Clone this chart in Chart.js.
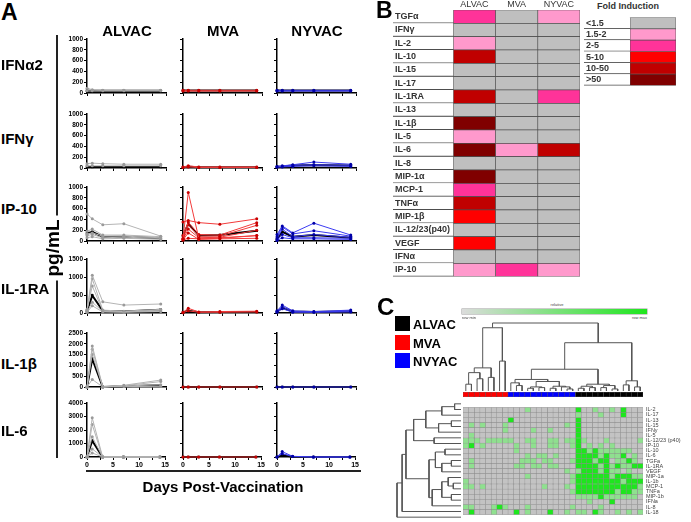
<!DOCTYPE html>
<html>
<head>
<meta charset="utf-8">
<script src="https://cdn.jsdelivr.net/npm/chart.js@4.4.1/dist/chart.umd.min.js"></script>
<style>
  body { margin: 0; background: #fff; font-family: "Liberation Sans", Arial, sans-serif; }
  #page { position: relative; width: 691px; height: 522px; overflow: hidden; background: #fff; }
  canvas, .txt, .rule { position: absolute; }
  .txt { font-weight: bold; color: #000; white-space: nowrap; line-height: 1; }
  .rule { background: #222; }
</style>
</head>
<body>
<div id="page"></div>
<script>
// ---------- panel A data (pg/mL by day) ----------
const days = [0, 1, 3, 7, 14];
const vaccines = ["ALVAC", "MVA", "NYVAC"];
const cytokinesA = ["IFNα2", "IFNγ", "IP-10", "IL-1RA", "IL-1β", "IL-6"];
const yMaxA = [1000, 1000, 1000, 1500, 2500, 4000];
const yStepA = [200, 200, 200, 500, 500, 1000];

const ifna2Alvac = [[90, 60, 50, 50, 50], [40, 40, 40, 40, 40]];
const ifna2AlvacMean = [40, 40, 40, 40, 40];
const ifna2Mva = [[50, 50, 50, 50, 50], [35, 35, 35, 35, 35]];
const ifna2MvaMean = [45, 45, 45, 45, 45];
const ifna2Nyvac = [[50, 50, 50, 50, 50], [35, 35, 35, 35, 35]];
const ifna2NyvacMean = [45, 45, 45, 45, 45];

const ifngAlvac = [[80, 90, 80, 70, 70], [40, 40, 40, 40, 40]];
const ifngAlvacMean = [20, 20, 20, 20, 20];
const ifngMva = [[20, 40, 20, 20, 20], [10, 20, 10, 10, 10]];
const ifngMvaMean = [15, 25, 15, 15, 15];
const ifngNyvac = [[30, 40, 60, 110, 70], [20, 30, 50, 60, 50], [20, 20, 30, 40, 30]];
const ifngNyvacMean = [25, 30, 45, 55, 45];

const ip10Alvac = [[500, 410, 300, 320, 90], [180, 220, 110, 110, 80], [130, 150, 90, 90, 60], [100, 120, 60, 70, 50], [60, 80, 40, 50, 30]];
const ip10AlvacMean = [140, 170, 75, 80, 50];
const ip10Mva = [[40, 900, 50, 60, 100], [350, 380, 340, 310, 410], [100, 350, 120, 110, 340], [50, 300, 90, 90, 290], [30, 220, 60, 70, 200], [20, 50, 40, 50, 100], [20, 150, 30, 40, 50]];
const ip10MvaMean = [100, 320, 100, 110, 190];
const ip10Nyvac = [[120, 280, 150, 330, 110], [80, 260, 130, 190, 90], [40, 220, 80, 120, 70], [20, 120, 60, 60, 50], [10, 60, 40, 40, 30]];
const ip10NyvacMean = [40, 170, 80, 110, 60];

const il1raAlvac = [[100, 1050, 310, 220, 250], [50, 950, 80, 50, 100], [80, 750, 60, 40, 80], [30, 300, 40, 30, 60], [20, 200, 30, 20, 40]];
const il1raAlvacMean = [50, 490, 60, 40, 90];
const il1raMva = [[20, 130, 30, 40, 50], [10, 60, 20, 20, 30]];
const il1raMvaMean = [15, 60, 20, 25, 30];
const il1raNyvac = [[60, 220, 60, 40, 80], [40, 170, 40, 30, 50], [20, 120, 20, 20, 30]];
const il1raNyvacMean = [30, 150, 40, 30, 50];

const il1bAlvac = [[0, 1900, 0, 80, 320], [0, 1750, 0, 60, 250], [0, 1500, 0, 50, 100], [0, 350, 0, 20, 30]];
const il1bAlvacMean = [0, 1300, 0, 40, 80];
const il1bMva = [[0, 0, 0, 0, 0]];
const il1bMvaMean = [0, 0, 0, 0, 0];
const il1bNyvac = [[0, 0, 0, 0, 0]];
const il1bNyvacMean = [0, 0, 0, 0, 0];

const il6Alvac = [[0, 2900, 0, 0, 0], [0, 2400, 0, 0, 0], [0, 1500, 0, 0, 0], [0, 600, 0, 0, 0], [0, 300, 0, 0, 0]];
const il6AlvacMean = [0, 1200, 0, 0, 0];
const il6Mva = [[0, 0, 0, 0, 0]];
const il6MvaMean = [0, 0, 0, 0, 0];
const il6Nyvac = [[0, 400, 50, 0, 0], [0, 250, 30, 0, 0]];
const il6NyvacMean = [0, 150, 20, 0, 0];

// ---------- panel B data (fold induction class 0..5) ----------
const foldRows = ["TGFα", "IFNγ", "IL-2", "IL-10", "IL-15", "IL-17", "IL-1RA", "IL-13", "IL-1β", "IL-5",
  "IL-6", "IL-8", "MIP-1α", "MCP-1", "TNFα", "MIP-1β", "IL-12/23(p40)", "VEGF", "IFNα", "IP-10"];
const alvacFold = [2, 0, 1, 4, 0, 0, 4, 0, 5, 1, 5, 0, 5, 2, 4, 3, 0, 3, 0, 1];
const mvaFold = [0, 0, 0, 0, 0, 0, 0, 0, 0, 0, 1, 0, 0, 0, 0, 0, 0, 0, 0, 2];
const nyvacFold = [1, 0, 0, 0, 0, 0, 2, 0, 0, 0, 4, 0, 0, 0, 0, 0, 0, 0, 0, 1];
const foldLabels = ["<1.5", "1.5-2", "2-5", "5-10", "10-50", ">50"];
const foldColors = ["#bfbfbf", "#ff99cc", "#ff3399", "#ff0000", "#c00000", "#800000"];

// ---------- panel C data ----------
const heatRowNames = ["IL-2", "IL-17", "IL-13", "IL-15", "IFNy", "IL-5", "IL-12/23 (p40)", "IP-10", "IL-10", "IL-6",
  "TGFa", "IL-1RA", "VEGF", "MIP-1a", "IL-1b", "MCP-1", "TNFa", "MIP-1b", "IFNa", "IL-8", "IL-18"];
const groupNames = ["MVA", "NVYAC", "ALVAC"];
const groupSizes = [8, 12, 12];
const groupColors = { MVA: "#ff0000", NVYAC: "#0000ff", ALVAC: "#000000" };
// 0 = grey, 1 = light green, 2 = bright green ; columns MVA | NYVAC | ALVAC
const heatRows = [
  "00000000 000100000000 200100102000",
  "00000000 000000000000 100010002000",
  "00000000 200000000000 200000000000",
  "01010001 000000000010 200000000000",
  "00000001 000010010000 200000000000",
  "01000000 000000000000 200000000000",
  "11101111 100110011011 210001000001",
  "12010000 010010011001 201010100000",
  "00000000 010000000000 221211111100",
  "00000000 000101101000 222212112010",
  "01000000 001110110001 222122011210",
  "01000000 011011011000 222212121122",
  "00000000 000000000010 122212110100",
  "00000000 000100000001 222222122211",
  "10000000 000000000001 222222221222",
  "11010000 000000100010 222222222221",
  "00000000 000000000001 222222212211",
  "00000000 000000000000 111121111110",
  "00000000 000000000000 001000200000",
  "11000121 000100000001 000010000000",
  "02000100 020100020010 110210010101"
];
const heatColors = ["#c3c3c3", "#8fe08f", "#1ee61e"];
// dendrograms: [height, left, right], leaves are column / row indexes
const colTree = [1.0,
  [0.93, [0.34, [0.27, [0.1, 0, 1], [0.18, 2, 3]], [0.2, 4, 5]], [0.44, 6, 7]],
  [0.71,
    [0.32,
      [0.17, [0.12, 8, [0.08, 9, 10]], [0.14, [0.06, [0.04, 11, 12], [0.05, 13, 14]], [0.07, [0.04, 15, 16], [0.06, 17, [0.03, 18, 19]]]]],
      [0.1, [0.07, [0.04, 20, 21], [0.05, 22, 23]], [0.08, [0.05, 24, 25], [0.03, 26, 27]]]],
    [0.15, [0.09, 28, 29], [0.06, 30, 31]]]];
const rowTree = [1.0,
  [0.92,
    [0.86,
      [0.74, [0.55, [0.3, [0.1, 0, 1], 2], [0.35, [0.15, 3, 4], 5]], [0.42, 6, 7]],
      [0.5, [0.4, [0.25, 8, 9], [0.3, [0.15, 10, 11], 12]], [0.45, [0.3, [0.2, 13, [0.12, 14, 15]], [0.15, 16, 17]], 18]]],
    19],
  20];

// ---------- helpers ----------
Chart.defaults.font.family = '"Liberation Sans", Arial, sans-serif';
Chart.defaults.color = "#000";
Chart.defaults.animation = false;
Chart.defaults.responsive = false;
Chart.defaults.maintainAspectRatio = false;
Chart.defaults.plugins.legend.display = false;
Chart.defaults.plugins.tooltip.enabled = false;

const page = document.getElementById("page");

function addCanvas(x, y, w, h) {
  const c = document.createElement("canvas");
  c.width = w; c.height = h;
  c.style.left = x + "px"; c.style.top = y + "px";
  c.style.width = w + "px"; c.style.height = h + "px";
  page.appendChild(c);
  return c;
}

function addText(str, x, y, size, align, extra) {
  const d = document.createElement("div");
  d.className = "txt";
  d.textContent = str;
  d.style.fontSize = size + "px";
  d.style.left = x + "px";
  d.style.top = y + "px";
  const tx = align === "center" ? "-50%" : align === "right" ? "-100%" : "0";
  d.style.transform = "translate(" + tx + ",-50%)" + (extra && extra.rotate ? " rotate(-90deg)" : "");
  if (extra) Object.assign(d.style, extra.style || {});
  page.appendChild(d);
  return d;
}

function addRule(x, y, w, h) {
  const d = document.createElement("div");
  d.className = "rule";
  Object.assign(d.style, { left: x + "px", top: y + "px", width: w + "px", height: h + "px" });
  page.appendChild(d);
}

// ---------- panel A ----------
const panelA = [
  [[ifna2Alvac, ifna2AlvacMean], [ifna2Mva, ifna2MvaMean], [ifna2Nyvac, ifna2NyvacMean]],
  [[ifngAlvac, ifngAlvacMean], [ifngMva, ifngMvaMean], [ifngNyvac, ifngNyvacMean]],
  [[ip10Alvac, ip10AlvacMean], [ip10Mva, ip10MvaMean], [ip10Nyvac, ip10NyvacMean]],
  [[il1raAlvac, il1raAlvacMean], [il1raMva, il1raMvaMean], [il1raNyvac, il1raNyvacMean]],
  [[il1bAlvac, il1bAlvacMean], [il1bMva, il1bMvaMean], [il1bNyvac, il1bNyvacMean]],
  [[il6Alvac, il6AlvacMean], [il6Mva, il6MvaMean], [il6Nyvac, il6NyvacMean]]
];
const vacStyle = [
  { line: "#b4b4b4", point: "#9a9a9a" },
  { line: "#f23b3b", point: "#c80000" },
  { line: "#3b3bf2", point: "#0000a8" }
];
const plotLeftA = [87, 183, 277];
const plotBottomA = [93, 168, 241, 313, 387, 457];

function smallChart(canvas, subjects, mean, sty, yMax, yStep, showY, showX) {
  const sets = subjects.map(s => ({
    data: s.map((v, i) => ({ x: days[i], y: v })),
    borderColor: sty.line, borderWidth: 1,
    pointRadius: 1.5, pointBorderWidth: 0,
    pointBackgroundColor: sty.point, clip: 4
  }));
  sets.push({
    data: mean.map((v, i) => ({ x: days[i], y: v })),
    borderColor: "#000", borderWidth: 2,
    pointStyle: "rect", pointRadius: 1.8, pointBorderWidth: 0,
    pointBackgroundColor: "#000", clip: 4
  });
  const axisGrid = { drawOnChartArea: false, tickLength: 3, color: "#000", lineWidth: 1 };
  return new Chart(canvas, {
    type: "line",
    data: { datasets: sets },
    options: {
      layout: { padding: { top: 5, right: 4 } },
      scales: {
        x: {
          type: "linear", min: 0, max: 15,
          ticks: {
            stepSize: 2.5, autoSkip: false, maxRotation: 0, padding: 1,
            font: { size: 7, weight: "bold" },
            callback: v => (showX && v % 5 === 0 ? v : "")
          },
          grid: axisGrid,
          border: { color: "#000", width: 1.5 },
          afterFit: a => { a.height = 12; }
        },
        y: {
          min: 0, max: yMax,
          ticks: {
            stepSize: yStep, padding: 1,
            font: { size: 6.5, weight: "bold" },
            callback: v => (showY ? v : "")
          },
          grid: axisGrid,
          border: { color: "#000", width: 1.5 },
          afterFit: a => { a.width = 30; }
        }
      }
    }
  });
}

panelA.forEach((row, r) => {
  row.forEach(([subjects, mean], c) => {
    const cv = addCanvas(plotLeftA[c] - 30, plotBottomA[r] - 59, 113, 71);
    smallChart(cv, subjects, mean, vacStyle[c], yMaxA[r], yStepA[r], c === 0, r === panelA.length - 1);
  });
});

addText("A", 1, 12, 23);
vaccines.forEach((v, c) => addText(v, plotLeftA[c] + 40, 30, 15, "center"));
const rowLabelY = [64, 138, 208, 288, 363, 430];
cytokinesA.forEach((name, r) => addText(name, 1, rowLabelY[r], 15));
addRule(56, 35, 2, 423);
addRule(86, 470, 275, 2);
addText("pg/mL", 52, 248, 19, "center", { rotate: true, style: { background: "#fff", padding: "0 4px" } });
addText("Days Post-Vaccination", 223, 486, 15, "center");

// ---------- panel B ----------
addText("B", 376, 10, 23);
const labelColMin = -60 / 42;
const tableGrid = { display: false, drawTicks: false };
const tableFont = { size: 9, weight: "bold" };
const labelCellStyle = {
  backgroundColor: "#fff", borderColor: "#4d4d4d",
  borderWidth: { top: 0, left: 0, right: 0, bottom: 1.2 }, borderSkipped: false
};

new Chart(addCanvas(393, -2, 188, 286), {
  type: "bar",
  data: {
    labels: foldRows,
    datasets: [Object.assign({ data: foldRows.map(() => [labelColMin, 0]) }, labelCellStyle)].concat(
      [alvacFold, mvaFold, nyvacFold].map((col, ci) => ({
        data: col.map(() => [ci, ci + 1]),
        backgroundColor: col.map(v => foldColors[v]),
        borderColor: "#4d4d4d", borderWidth: 0.7, borderSkipped: false
      })))
  },
  options: {
    indexAxis: "y",
    datasets: { bar: { barPercentage: 1, categoryPercentage: 1, grouped: false } },
    layout: { padding: { right: 1, bottom: 1 } },
    scales: {
      x: {
        type: "linear", position: "top", min: labelColMin, max: 3,
        grid: tableGrid, border: { display: false },
        afterBuildTicks: a => { a.ticks = vaccines.map((v, i) => ({ value: i + 0.5 })); },
        ticks: {
          autoSkip: false, maxRotation: 0, padding: 0, color: "#333",
          font: { size: 9 },
          callback: (v, i) => vaccines[i]
        },
        afterFit: a => { a.height = 12; }
      },
      y: {
        grid: tableGrid, border: { display: false },
        ticks: { mirror: true, z: 1, padding: 2, autoSkip: false, color: "#333", font: tableFont },
        afterFit: a => { a.width = 0; }
      }
    }
  }
});

addText("Fold Induction", 628, 6, 9, "center", { style: { color: "#333" } });
new Chart(addCanvas(584, 10, 93, 83), {
  type: "bar",
  data: {
    labels: foldLabels,
    datasets: [
      Object.assign({ data: foldLabels.map(() => [-1, 0]) }, labelCellStyle),
      {
        data: foldLabels.map(() => [0, 1]),
        backgroundColor: foldColors,
        borderColor: "#4d4d4d", borderWidth: 0.7, borderSkipped: false
      }
    ]
  },
  options: {
    indexAxis: "y",
    datasets: { bar: { barPercentage: 1, categoryPercentage: 1, grouped: false } },
    layout: { padding: { right: 1, bottom: 1 } },
    scales: {
      x: { type: "linear", min: -1, max: 1, display: false },
      y: {
        grid: tableGrid, border: { display: false },
        ticks: { mirror: true, z: 1, padding: 2, autoSkip: false, color: "#333", font: tableFont },
        afterFit: a => { a.width = 0; }
      }
    }
  }
});

// ---------- panel C ----------
addText("C", 377, 307, 24);
const legendC = [["ALVAC", "#000", 316], ["MVA", "#ff0000", 335], ["NVYAC", "#0000ff", 353]];
legendC.forEach(([name, col, y]) => {
  const sq = document.createElement("div");
  Object.assign(sq.style, { position: "absolute", left: "395px", top: y + "px", width: "15px", height: "15px", background: col });
  page.appendChild(sq);
  addText(name, 413, y + 8, 13);
});

const grad = document.createElement("div");
Object.assign(grad.style, {
  position: "absolute", left: "462px", top: "309px", width: "185px", height: "5px",
  background: "linear-gradient(to right, #dcdcdc, #1ee61e)", boxShadow: "0 0 0 0.5px #999"
});
page.appendChild(grad);
addText("relative", 557, 305, 4, "center", { style: { fontWeight: "normal", color: "#444" } });
addText("row min", 462, 318, 4, "left", { style: { fontWeight: "normal", color: "#444" } });
addText("row max", 647, 318, 4, "right", { style: { fontWeight: "normal", color: "#444" } });

const colGroups = [];
groupNames.forEach((g, i) => { for (let k = 0; k < groupSizes[i]; k++) colGroups.push(g); });
const heat = heatRows.map(s => s.replace(/ /g, "").split("").map(Number));

function dendroSegments(tree) {
  const segs = [];
  function walk(n) {
    if (typeof n === "number") return { p: n, h: 0 };
    const a = walk(n[1]), b = walk(n[2]);
    segs.push([[a.p, a.h], [a.p, n[0]], [b.p, n[0]], [b.p, b.h]]);
    return { p: (a.p + b.p) / 2, h: n[0] };
  }
  walk(tree);
  return segs;
}
const dendroLine = { showLine: true, pointRadius: 0, borderColor: "#555", borderWidth: 1, clip: false };

// column dendrogram
new Chart(addCanvas(463, 321, 180, 71), {
  type: "scatter",
  data: {
    datasets: dendroSegments(colTree).map(s => Object.assign({ data: s.map(([p, h]) => ({ x: p, y: h })) }, dendroLine))
  },
  options: {
    layout: { padding: { top: 2, bottom: 1 } },
    scales: {
      x: { type: "linear", min: -0.5, max: colGroups.length - 0.5, display: false },
      y: { min: 0, max: 1, display: false }
    }
  }
});

// row dendrogram
new Chart(addCanvas(396, 401, 66, 119), {
  type: "scatter",
  data: {
    datasets: dendroSegments(rowTree).map(s => Object.assign({ data: s.map(([p, h]) => ({ x: h, y: p })) }, dendroLine))
  },
  options: {
    layout: { padding: { left: 1, right: 1 } },
    scales: {
      x: { type: "linear", min: 0, max: 1, reverse: true, display: false },
      y: { type: "linear", min: -0.5, max: heatRowNames.length - 0.5, reverse: true, display: false }
    }
  }
});

// group colour bar
new Chart(addCanvas(463, 392, 180, 5), {
  type: "bar",
  data: {
    labels: colGroups.map((g, i) => g + i),
    datasets: [{
      data: colGroups.map(() => [0, 1]),
      backgroundColor: colGroups.map(g => groupColors[g]),
      borderColor: "#555", borderWidth: 0.5, borderSkipped: false,
      barPercentage: 1, categoryPercentage: 1
    }]
  },
  options: { scales: { x: { display: false }, y: { min: 0, max: 1, display: false } } }
});

// heatmap
new Chart(addCanvas(463, 401, 228, 120), {
  type: "bar",
  data: {
    labels: heatRowNames,
    datasets: colGroups.map((g, ci) => ({
      data: heatRowNames.map(() => [ci, ci + 1]),
      backgroundColor: heat.map(row => heatColors[row[ci]]),
      borderColor: "#8c8c8c", borderWidth: 0.5, borderSkipped: false
    }))
  },
  options: {
    indexAxis: "y",
    datasets: { bar: { barPercentage: 1, categoryPercentage: 1, grouped: false } },
    layout: { padding: { bottom: 1 } },
    scales: {
      x: { type: "linear", min: 0, max: colGroups.length, display: false },
      y: {
        position: "right",
        grid: { display: false, drawTicks: false }, border: { display: false },
        ticks: { autoSkip: false, padding: 3, color: "#444", font: { size: 5.5 } },
        afterFit: a => { a.width = 48; }
      }
    }
  }
});
</script>
</body>
</html>
